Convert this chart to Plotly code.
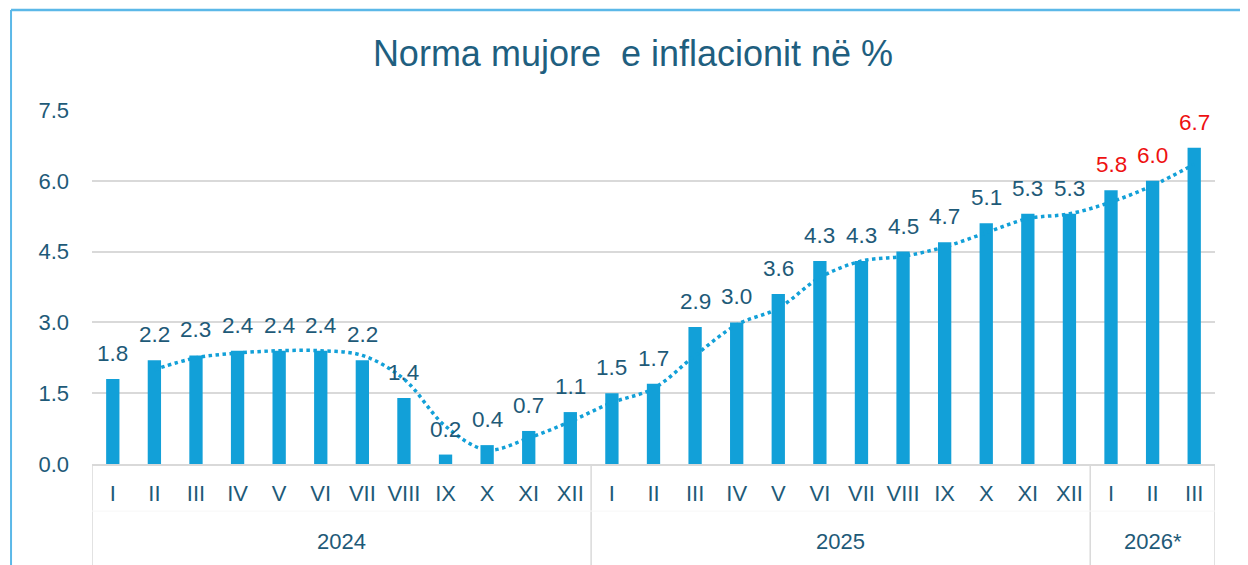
import plotly.graph_objects as go

months = ["I","II","III","IV","V","VI","VII","VIII","IX","X","XI","XII",
          "I","II","III","IV","V","VI","VII","VIII","IX","X","XI","XII",
          "I","II","III"]
years = ["2024"]*12 + ["2025"]*12 + ["2026*"]*3
values = [1.8,2.2,2.3,2.4,2.4,2.4,2.2,1.4,0.2,0.4,0.7,1.1,
          1.5,1.7,2.9,3.0,3.6,4.3,4.3,4.5,4.7,5.1,5.3,5.3,
          5.8,6.0,6.7]
forecast = [False]*24 + [True]*3
y_ticks = [0.0,1.5,3.0,4.5,6.0,7.5]
title_text = "Norma mujore\u00a0 e inflacionit në %"

BAR = "#12A0D8"
TXT = "#1E5A78"
RED = "#EE1111"
GRID = "#D9D9D9"
FONT = "Liberation Sans, Arial, sans-serif"

W, H = 1240, 557

idx = list(range(len(values)))
trend_x = idx[1:]
trend_y = [(values[i-1]+values[i])/2 for i in range(1, len(values))]

fig = go.Figure()
fig.add_trace(go.Bar(x=idx, y=values, marker_color=BAR, marker_line_width=0,
                     width=0.32, hoverinfo="skip"))
fig.add_trace(go.Scatter(x=trend_x, y=trend_y, mode="lines",
                         line=dict(color=BAR, width=3.5, dash="dot", shape="spline", smoothing=1.0),
                         hoverinfo="skip"))

annotations = []
for i, v in enumerate(values):
    annotations.append(dict(x=i, y=v, xref="x", yref="y", text=f"{v:.1f}",
                            showarrow=False, yanchor="bottom", yshift=11,
                            font=dict(size=22.5, color=RED if forecast[i] else TXT, family=FONT)))

# year group labels and dividers
groups = []
for i, yv in enumerate(years):
    if not groups or groups[-1][0] != yv:
        groups.append([yv, i, i])
    else:
        groups[-1][2] = i

shapes = []
bottom = -0.35
for g in groups:
    name, s, e = g
    annotations.append(dict(x=(s+e)/2, y=-0.2203, xref="x", yref="paper", text=name,
                            showarrow=False, yanchor="middle",
                            font=dict(size=22, color=TXT, family=FONT)))
    shapes.append(dict(type="line", xref="x", yref="paper", x0=s-0.5, x1=s-0.5,
                       y0=0, y1=bottom, line=dict(color=GRID, width=1.5)))
shapes.append(dict(type="line", xref="x", yref="paper", x0=len(values)-0.5, x1=len(values)-0.5,
                   y0=0, y1=bottom, line=dict(color=GRID, width=1.5)))
# faint separator between month row and year row
shapes.append(dict(type="line", xref="x", yref="paper", x0=-0.5, x1=len(values)-0.5,
                   y0=-0.133, y1=-0.133, line=dict(color="#F7F7F7", width=1)))
# outer chart frame (left and top)
shapes.append(dict(type="line", xref="paper", yref="paper", x0=-0.0721, x1=-0.0721,
                   y0=1.2825, y1=-0.35, line=dict(color="#5BB8E8", width=2)))
shapes.append(dict(type="line", xref="paper", yref="paper", x0=-0.0721, x1=1.1,
                   y0=1.2825, y1=1.2825, line=dict(color="#5BB8E8", width=2.5)))

fig.update_layout(
    width=W, height=H,
    margin=dict(l=84, r=33, t=102, b=101),
    paper_bgcolor="white", plot_bgcolor="white",
    showlegend=False,
    title=dict(text=title_text, x=625/W, xref="container", xanchor="center",
               y=1 - 45/H, yanchor="middle",
               font=dict(size=36, color="#1F5F7F", family=FONT)),
    xaxis=dict(tickmode="array", tickvals=idx, ticktext=months, range=[-0.5, len(values)-0.5],
               showgrid=False, zeroline=False, showline=True, linecolor=GRID, linewidth=1.5,
               ticks="", ticklabelstandoff=9,
               tickfont=dict(size=22, color=TXT, family=FONT)),
    yaxis=dict(range=[0, 7.5], tickmode="array", tickvals=y_ticks,
               ticktext=[f"{t:.1f}" for t in y_ticks],
               showgrid=True, gridcolor=GRID, gridwidth=1.5, zeroline=False,
               showline=False, ticks="", ticklabelstandoff=22,
               tickfont=dict(size=22, color=TXT, family=FONT)),
    annotations=annotations, shapes=shapes,
    bargap=0.68,
)

fig.write_html("out.html")
